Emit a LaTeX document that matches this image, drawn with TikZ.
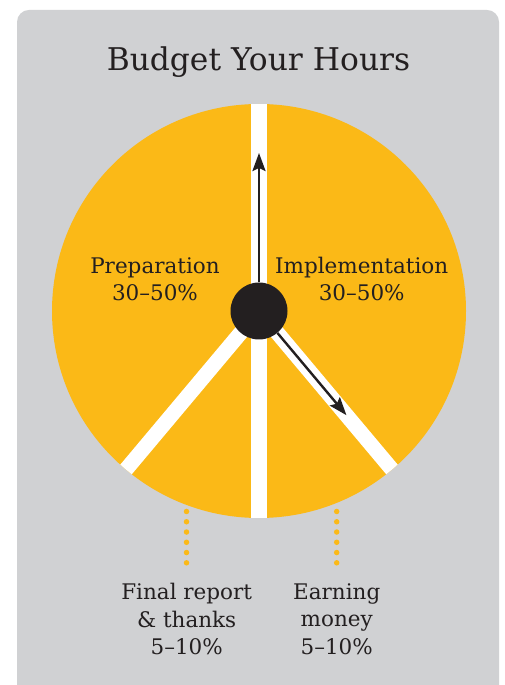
\documentclass[tikz,border=0pt]{standalone}
\usepackage{fontspec}
\setmainfont{DejaVu Serif}
\usetikzlibrary{arrows.meta}
\definecolor{panelgray}{RGB}{208,209,211}
\definecolor{pieyellow}{RGB}{251,185,23}
\definecolor{inkblack}{RGB}{35,31,32}

\begin{document}
\begin{tikzpicture}[x=1pt,y=1pt,
	lbl/.style={text=inkblack,align=center,font=\fontsize{21.5}{27.5}\selectfont},
	spoke/.style={draw=white,line width=15pt},
	pointer/.style={draw=inkblack,line width=2.4pt,-{Stealth[length=18pt,width=13pt,inset=3pt]}},
	dotline/.style={draw=pieyellow,line width=5.5pt,line cap=round,dash pattern=on 0pt off 10.26pt}]
		%%%%% START %%%%%
		
		\useasboundingbox (0,0) rectangle (505,685);
		\fill[white] (0,0) rectangle (505,685);
		\fill[panelgray,rounded corners=12pt] (17,-30) rectangle (499,675);
		
		\node[text=inkblack,font=\fontsize{31.3}{38}\selectfont] (title) at (258.5,623) {Budget Your Hours};
		
		\fill[pieyellow] (259,374) circle (207pt);
		\begin{scope}
			\clip (259,374) circle (207pt);
			\draw[spoke,line width=16pt] (259,600) -- (259,150);
			\draw[spoke] (259,374) -- ++(230:230);
			\draw[spoke] (259,374) -- ++(310:230);
		\end{scope}
		
		\node[circle,fill=inkblack,minimum size=57pt,inner sep=0pt] (hub) at (259,374) {};
		\coordinate (uptip) at (259,532);
		\path (hub.center) ++(310:136) coordinate (downtip);
		\draw[pointer] (hub.north) -- (uptip);
		\draw[pointer] (hub.310) -- (downtip);
		
		\node[lbl] (prep) at (155,406) {Preparation\\30--50\%};
		\node[lbl] (impl) at (361.7,406) {Implementation\\30--50\%};
		
		\node[lbl] (final) at (186.7,66) {Final report\\\& thanks\\5--10\%};
		\node[lbl] (earn) at (336.7,66) {Earning\\money\\5--10\%};
		
		\coordinate (finaltop) at (186.5,173.5);
		\coordinate (earntop) at (336.7,173.5);
		\draw[dotline] (finaltop) -- (186.5,121);
		\draw[dotline] (earntop) -- (336.7,121);
		
		%%%%% END %%%%%
	\end{tikzpicture}
\end{document}
